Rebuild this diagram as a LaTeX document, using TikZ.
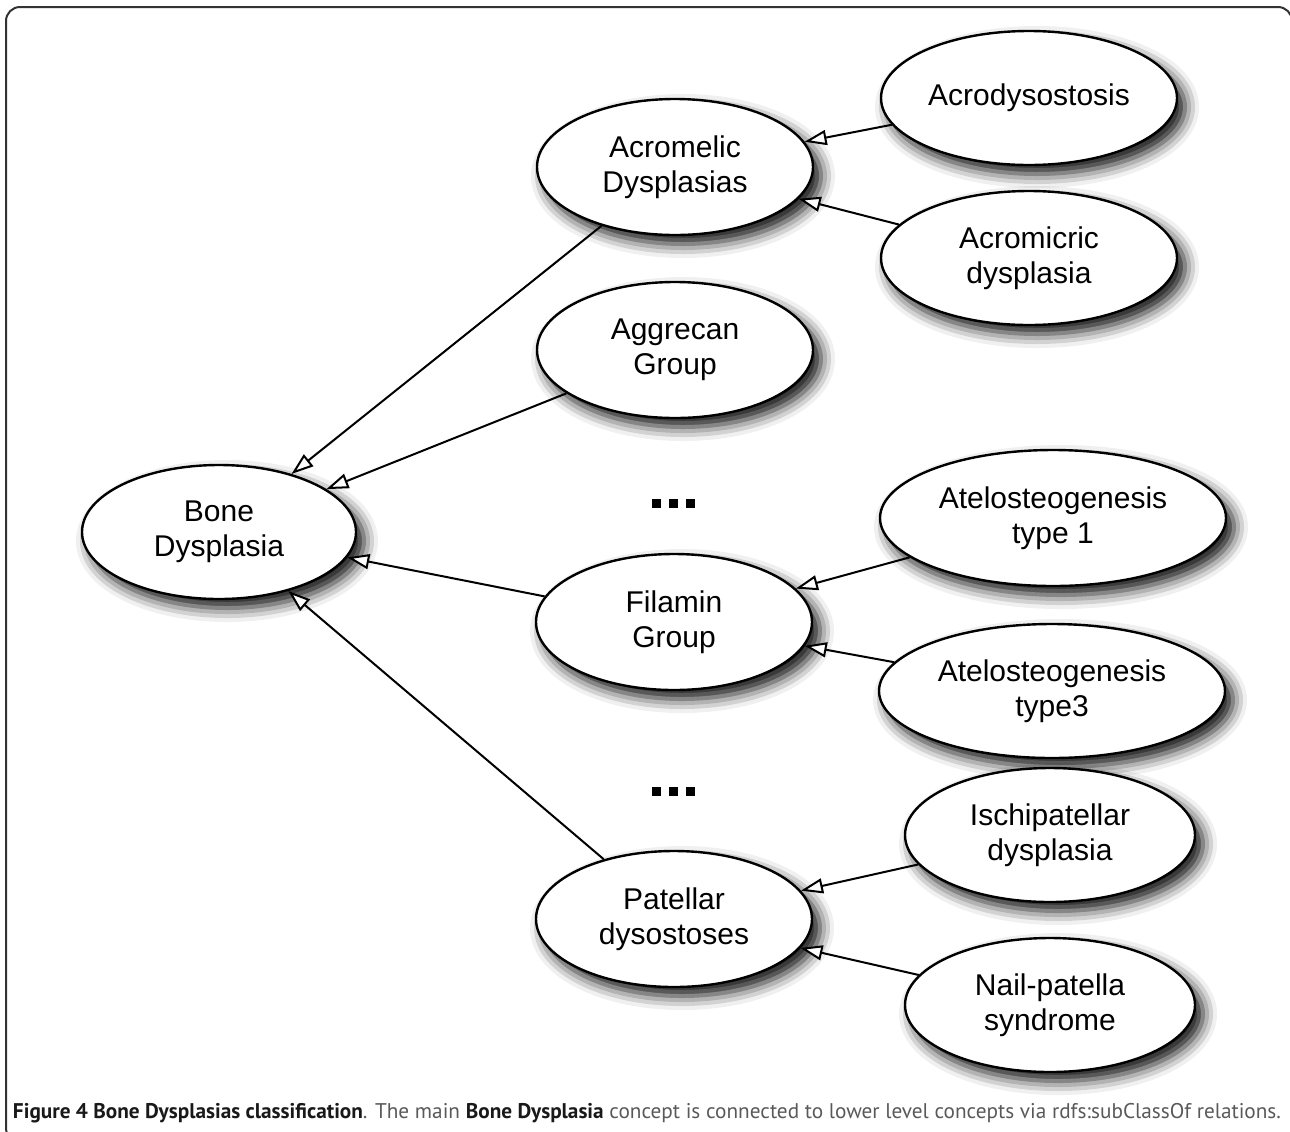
\documentclass[tikz,border=0pt]{standalone}
\usepackage{fontspec}
\setmainfont{Liberation Sans}
\newfontfamily\capfont{PT Sans}
\usepackage{tikz}
\usetikzlibrary{shapes.geometric}
\usetikzlibrary{arrows.meta}
\usetikzlibrary{shadows.blur}

\begin{document}
\begin{tikzpicture}[x=0.5pt,y=-0.5pt,
  concept/.style={ellipse, draw, fill=white, line width=1.2pt, inner sep=0pt,
    align=center, font=\fontsize{15}{17.5}\selectfont,
    blur shadow={shadow xshift=4pt, shadow yshift=-4.5pt, shadow blur radius=7pt, shadow opacity=95}},
  isa/.style={line width=1pt, -{Triangle[fill=white, length=11pt, width=7.5pt, line width=1pt]}}]
\useasboundingbox (0,0) rectangle (1290,1131);

% frame
\begin{scope}
\clip (0,0) rectangle (1290,1131);
\draw[line width=1pt, black!80, rounded corners=7pt] (6,7) rectangle (1292,1142);
\end{scope}

% concepts
\node[concept, minimum width=137pt, minimum height=67pt] (bone) at (219,532) {Bone\\Dysplasia};

\node[concept, minimum width=138pt, minimum height=68pt] (acromelic) at (675,167) {Acromelic\\Dysplasias};
\node[concept, minimum width=138pt, minimum height=68pt] (aggrecan) at (675,350) {Aggrecan\\Group};
\node[concept, minimum width=138pt, minimum height=68pt] (filamin) at (674,622) {Filamin\\Group};
\node[concept, minimum width=138pt, minimum height=68pt] (patellar) at (674,919) {Patellar\\dysostoses};

\node[concept, minimum width=148pt, minimum height=67pt] (acrodys) at (1029,98) {Acrodysostosis};
\node[concept, minimum width=148pt, minimum height=67pt] (acromicric) at (1029,258) {Acromicric\\dysplasia};
\node[concept, minimum width=173pt, minimum height=68pt] (atelo1) at (1053,518) {Atelosteogenesis\\type 1};
\node[concept, minimum width=173pt, minimum height=67pt] (atelo3) at (1052,691) {Atelosteogenesis\\type3};
\node[concept, minimum width=145pt, minimum height=67pt] (ischi) at (1050,835) {Ischipatellar\\dysplasia};
\node[concept, minimum width=145pt, minimum height=67pt] (nail) at (1050,1005) {Nail-patella\\syndrome};

% subClassOf relations
\draw[isa] (acromelic) -- (bone);
\draw[isa] (aggrecan) -- (bone);
\draw[isa] (filamin) -- (bone);
\draw[isa] (patellar) -- (bone);
\draw[isa] (acrodys) -- (acromelic);
\draw[isa] (acromicric) -- (acromelic);
\draw[isa] (atelo1) -- (filamin);
\draw[isa] (atelo3) -- (filamin);
\draw[isa] (ischi) -- (patellar);
\draw[isa] (nail) -- (patellar);

% ellipsis dots
\foreach \y in {503.5,791} {
  \foreach \x in {656.5,673.5,690.5}
    \fill (\x-4.5,\y-4.5) rectangle (\x+4.5,\y+4.5);
}

% caption
\node[anchor=base, inner sep=0pt, font=\capfont\fontsize{10}{12}\selectfont, text=black!65] (caption) at (647,1118)
  {\resizebox{634pt}{!}{\textcolor{black!90}{\bfseries Figure 4 Bone Dysplasias classification}. The main \textcolor{black!90}{\bfseries Bone Dysplasia} concept is connected to lower level concepts via rdfs:subClassOf relations.}};

\end{tikzpicture}
\end{document}
